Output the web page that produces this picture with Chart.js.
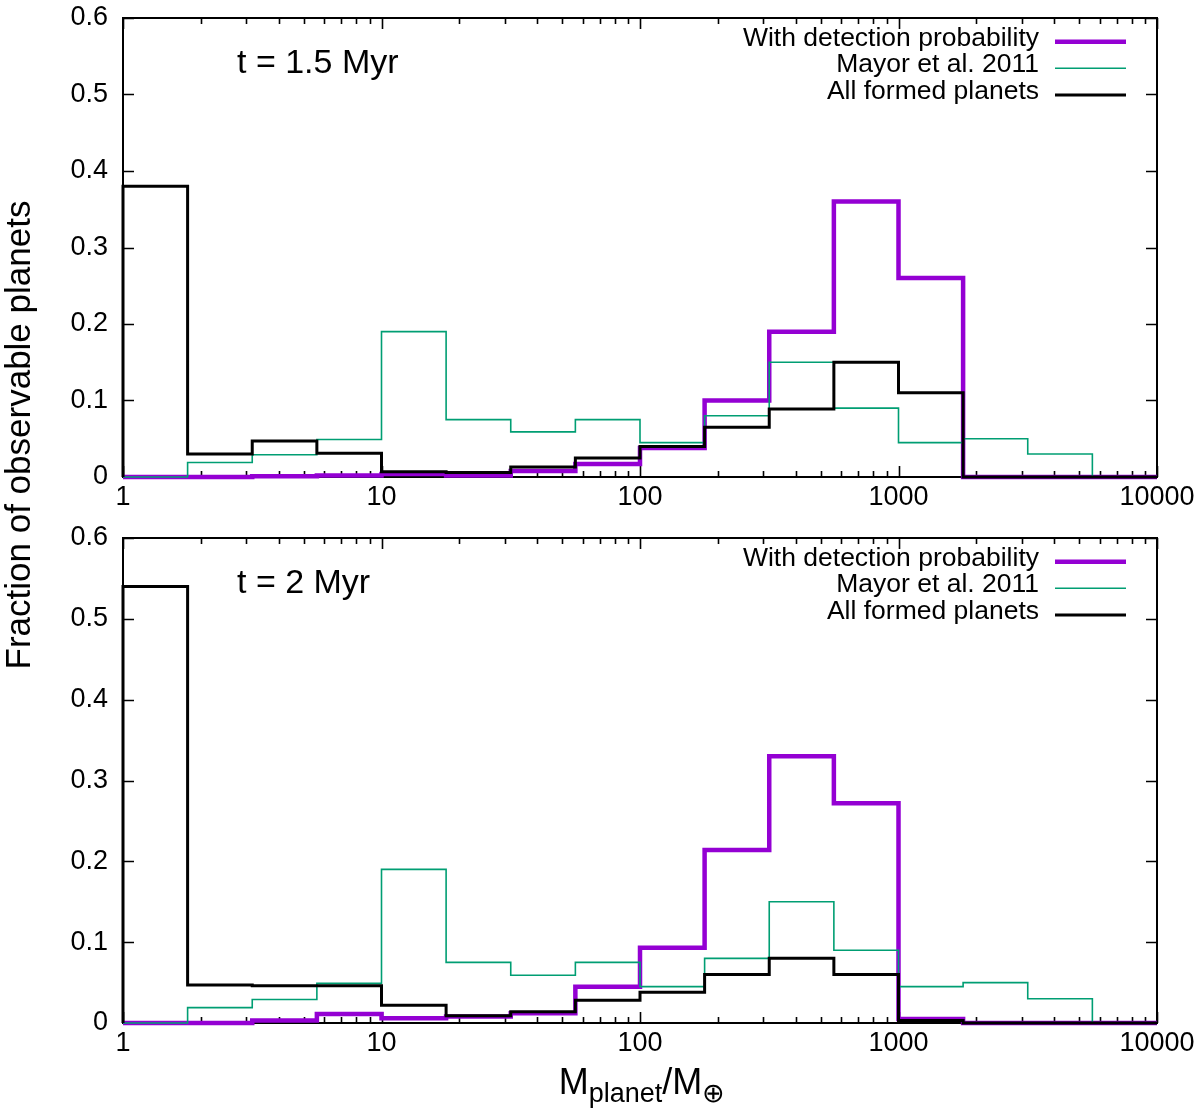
<!DOCTYPE html>
<html>
<head>
<meta charset="utf-8">
<script src="https://cdn.jsdelivr.net/npm/chart.js@4.4.1/dist/chart.umd.min.js"></script>
<style>
html, body { margin: 0; padding: 0; background: #fff; }
#wrap { position: relative; width: 1200px; height: 1114px; overflow: hidden; font-family: "Liberation Sans", Arial, sans-serif; color: #000; }
#c1 { position: absolute; left: 0; top: 0; }
#c2 { position: absolute; left: 0; top: 520px; }
#ytitle { position: absolute; left: -282px; top: 415px; width: 600px; height: 40px; line-height: 40px; text-align: center; font-size: 35px; transform: rotate(-90deg); white-space: nowrap; }
#xtitle { position: absolute; left: 442px; width: 400px; top: 1062px; text-align: center; font-size: 36px; line-height: 40px; white-space: nowrap; }
#xtitle sub { font-size: 27px; vertical-align: -0.3em; line-height: 0; }
</style>
</head>
<body>
<div id="wrap">
  <canvas id="c1" width="1200" height="520"></canvas>
  <canvas id="c2" width="1200" height="594"></canvas>
  <div id="ytitle">Fraction of observable planets</div>
  <div id="xtitle">M<sub>planet</sub>/M<sub>⊕</sub></div>
</div>
<script>
// ---------------- data ----------------
const binEdges = [1, 1.778, 3.162, 5.623, 10, 17.78, 31.62, 56.23, 100, 177.8, 316.2, 562.3, 1000, 1778, 3162, 5623, 10000];

const mayor2011 = [0, 0.019, 0.029, 0.049, 0.190, 0.075, 0.059, 0.075, 0.045, 0.080, 0.150, 0.090, 0.045, 0.050, 0.030, 0];

const detect15   = [0, 0, 0.001, 0.002, 0.004, 0.002, 0.008, 0.017, 0.038, 0.100, 0.190, 0.360, 0.260, 0, 0, 0];
const allForm15  = [0.380, 0.030, 0.047, 0.031, 0.007, 0.006, 0.013, 0.025, 0.040, 0.065, 0.089, 0.150, 0.110, 0, 0, 0];

const detect2    = [0, 0, 0.003, 0.011, 0.006, 0.008, 0.012, 0.045, 0.093, 0.214, 0.330, 0.272, 0.005, 0, 0, 0];
const allForm2   = [0.540, 0.047, 0.046, 0.046, 0.022, 0.009, 0.014, 0.028, 0.038, 0.060, 0.080, 0.060, 0.003, 0, 0, 0];

const seriesLabels = ['With detection probability', 'Mayor et al. 2011', 'All formed planets'];
const panelTitles = ['t = 1.5 Myr', 't = 2 Myr'];

const xTickValues = [1, 10, 100, 1000, 10000];
const xTickLabels = ['1', '10', '100', '1000', '10000'];
const yTickValues = [0, 0.1, 0.2, 0.3, 0.4, 0.5, 0.6];
const yTickLabels = ['0', '0.1', '0.2', '0.3', '0.4', '0.5', '0.6'];

// ---------------- style ----------------
const PURPLE = '#9400D3';
const GREEN = '#009E73';
const BLACK = '#000000';
const FONT = '"Liberation Sans", Arial, sans-serif';

function steps(values) {
  const pts = [{ x: binEdges[0], y: 0 }];
  values.forEach((v, i) => pts.push({ x: binEdges[i], y: v }));
  pts.push({ x: binEdges[binEdges.length - 1], y: values[values.length - 1] });
  pts.push({ x: binEdges[binEdges.length - 1], y: 0 });
  return pts;
}

const panelPlugin = {
  id: 'panelDeco',
  beforeDatasetsDraw(chart) {
    const { ctx, chartArea: a, scales } = chart;
    ctx.save();
    ctx.strokeStyle = '#000';
    ctx.lineWidth = 2;
    ctx.strokeRect(a.left, a.top, a.right - a.left, a.bottom - a.top);
    ctx.lineWidth = 1.6;
    ctx.beginPath();
    // x ticks (major at decades, minor 2..9), inward on bottom and top
    for (let d = 0; d < 4; d++) {
      const base = xTickValues[d];
      for (let m = 1; m <= 10; m++) {
        const v = base * m;
        const px = Math.round(scales.x.getPixelForValue(v)) + 0.5;
        const len = (m === 1 || m === 10) ? 11 : 6;
        ctx.moveTo(px, a.bottom); ctx.lineTo(px, a.bottom - len);
        ctx.moveTo(px, a.top); ctx.lineTo(px, a.top + len);
      }
    }
    // y ticks, inward on left and right
    yTickValues.forEach(v => {
      const py = Math.round(scales.y.getPixelForValue(v)) + 0.5;
      ctx.moveTo(a.left, py); ctx.lineTo(a.left + 11, py);
      ctx.moveTo(a.right, py); ctx.lineTo(a.right - 11, py);
    });
    ctx.stroke();
    ctx.restore();
  },
  afterDraw(chart, args, opts) {
    const { ctx, chartArea: a } = chart;
    ctx.save();
    ctx.fillStyle = '#000';
    // panel title
    ctx.font = '34px ' + FONT;
    ctx.textAlign = 'left';
    ctx.textBaseline = 'alphabetic';
    ctx.fillText(opts.title, 237, a.top + 55);
    // legend
    ctx.font = '26.5px ' + FONT;
    ctx.textAlign = 'right';
    const rowsText = [27.5, 54, 80.5];
    const rowsLine = [23.7, 50.3, 77];
    chart.data.datasets.forEach((ds, i) => {
      ctx.fillStyle = '#000';
      ctx.fillText(ds.label, 1039, a.top + rowsText[i]);
      ctx.strokeStyle = ds.borderColor;
      ctx.lineWidth = ds.legendWidth;
      ctx.beginPath();
      ctx.moveTo(1055, a.top + rowsLine[i]);
      ctx.lineTo(1126, a.top + rowsLine[i]);
      ctx.stroke();
    });
    ctx.restore();
  }
};

function makeChart(id, title, detect, allForm, xAxisH) {
  return new Chart(document.getElementById(id), {
    type: 'line',
    data: {
      datasets: [
        { label: seriesLabels[0], data: steps(detect), borderColor: PURPLE, borderWidth: 4.5, legendWidth: 4.5, order: 3 },
        { label: seriesLabels[1], data: steps(mayor2011), borderColor: GREEN, borderWidth: 1.6, legendWidth: 1.6, order: 2 },
        { label: seriesLabels[2], data: steps(allForm), borderColor: BLACK, borderWidth: 3, legendWidth: 3, order: 1 }
      ]
    },
    options: {
      responsive: false,
      animation: false,
      layout: { padding: { top: 18, right: 43, left: 0, bottom: 0 } },
      elements: {
        point: { radius: 0, hoverRadius: 0 },
        line: { stepped: 'before', tension: 0, fill: false, borderJoinStyle: 'miter', borderCapStyle: 'butt' }
      },
      datasets: { line: { clip: false } },
      plugins: {
        legend: { display: false },
        tooltip: { enabled: false },
        panelDeco: { title: title }
      },
      scales: {
        x: {
          type: 'logarithmic',
          min: 1, max: 10000,
          position: 'bottom',
          afterBuildTicks: s => { s.ticks = xTickValues.map(v => ({ value: v })); },
          afterFit: s => { s.height = xAxisH; s.paddingLeft = 0; s.paddingRight = 0; },
          ticks: {
            autoSkip: false, maxRotation: 0, minRotation: 0, padding: 4,
            color: '#000', font: { size: 27, family: FONT },
            callback: (v, i) => xTickLabels[i]
          },
          grid: { display: false, drawTicks: false },
          border: { display: false }
        },
        y: {
          type: 'linear',
          min: 0, max: 0.6,
          afterBuildTicks: s => { s.ticks = yTickValues.map(v => ({ value: v })); },
          afterFit: s => { s.width = 123; s.paddingTop = 0; s.paddingBottom = 0; },
          ticks: {
            padding: 15, color: '#000', font: { size: 27, family: FONT },
            callback: (v, i) => yTickLabels[i]
          },
          grid: { display: false, drawTicks: false },
          border: { display: false }
        }
      }
    },
    plugins: [panelPlugin]
  });
}

makeChart('c1', panelTitles[0], detect15, allForm15, 43);
makeChart('c2', panelTitles[1], detect2, allForm2, 91);
</script>
</body>
</html>
